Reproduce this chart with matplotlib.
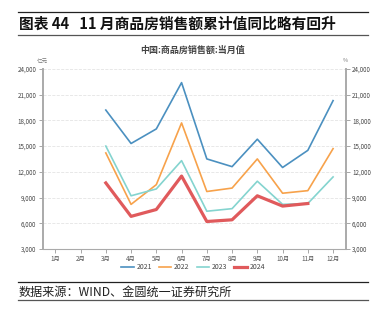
import matplotlib.pyplot as plt
from matplotlib.lines import Line2D

plt.rcParams['font.family'] = ['Noto Sans CJK SC', 'DejaVu Sans']

# 月份与数据（亿元）
months = ['1月', '2月', '3月', '4月', '5月', '6月', '7月', '8月', '9月', '10月', '11月', '12月']
idx_2021 = [2, 3, 4, 5, 6, 7, 8, 9, 10, 11]
s2021 = [19200, 15300, 17000, 22400, 13500, 12600, 15800, 12500, 14500, 20300]
s2022 = [14200, 8200, 10500, 17700, 9700, 10100, 13500, 9500, 9800, 14700]
s2023 = [15000, 9200, 10000, 13300, 7400, 7700, 10900, 8200, 8300, 11400]
idx_2024 = [2, 3, 4, 5, 6, 7, 8, 9, 10]
s2024 = [10700, 6800, 7600, 11500, 6200, 6400, 9200, 8000, 8300]
yticks = [3000, 6000, 9000, 12000, 15000, 18000, 21000, 24000]

colors = ['#4b90c0', '#f7a24b', '#84d4cf', '#e05a5c']
labels = ['2021', '2022', '2023', '2024']

fig = plt.figure(figsize=(3.88, 3.25), dpi=100)
ax = fig.add_axes([0.110, 0.234, 0.781, 0.554])

ax.plot(idx_2021, s2021, color=colors[0], lw=1.2)
ax.plot(idx_2021, s2022, color=colors[1], lw=1.2)
ax.plot(idx_2021, s2023, color=colors[2], lw=1.2)
ax.plot(idx_2024, s2024, color=colors[3], lw=2.3)

ax.set_xlim(-0.5, 11.5)
ax.set_ylim(3000, 24000)
ax.set_xticks(range(12))
ax.set_xticklabels(months, fontsize=4.5, color='#555555')
ax.set_yticks(yticks)
ax.set_yticklabels([f'{v:,}' for v in yticks], fontsize=4.5, color='#444444')
ax.grid(axis='y', color='#e4e4e4', ls='--', lw=0.6)
ax.tick_params(axis='both', length=3, width=0.6, color='#999999', pad=1.5)
for s in ['top', 'right']:
    ax.spines[s].set_visible(False)
for s in ['left', 'bottom']:
    ax.spines[s].set_color('#aaaaaa')
ax.spines['left'].set_linewidth(1.4)
ax.spines['bottom'].set_linewidth(0.8)

ax2 = ax.twinx()
ax2.set_ylim(3000, 24000)
ax2.set_yticks(yticks)
ax2.set_yticklabels([f'{v:,}' for v in yticks], fontsize=4.5, color='#444444')
ax2.tick_params(axis='y', length=3, width=0.6, color='#999999', pad=1.5)
for s in ['top', 'left', 'bottom']:
    ax2.spines[s].set_visible(False)
ax2.spines['right'].set_color('#aaaaaa')
ax2.spines['right'].set_linewidth(1.4)

# 单位
fig.text(42.7 / 388, 1 - 61 / 325, '亿元', fontsize=4, color='#777777', ha='center', va='center')
fig.text(345 / 388, 1 - 61 / 325, '%', fontsize=4, color='#777777', ha='center', va='center')
fig.text(193 / 388, 1 - 50 / 325, '中国:商品房销售额:当月值', fontsize=6.5, color='#444444',
         ha='center', va='center', fontweight='bold')

handles = [Line2D([], [], color=c, lw=2.3 if l == '2024' else 1.2) for c, l in zip(colors, labels)]
fig.legend(handles, labels, loc='center', bbox_to_anchor=(193 / 388, 1 - 267 / 325), ncol=4,
           frameon=False, fontsize=5, handlelength=1.8, columnspacing=1.0, handletextpad=0.4,
           labelcolor='#444444')

# 标题与来源
fig.add_artist(Line2D([18 / 388, 368 / 388], [1 - 12.3 / 325] * 2, color='#222222', lw=0.9))
fig.add_artist(Line2D([18 / 388, 368 / 388], [1 - 34.7 / 325] * 2, color='#555555', lw=0.9))
fig.text(19 / 388, 1 - 24 / 325, '图表 44   11 月商品房销售额累计值同比略有回升', fontsize=10.6,
         fontweight='bold', ha='left', va='center', color='#111111')
fig.add_artist(Line2D([18 / 388, 368 / 388], [1 - 282.3 / 325] * 2, color='#222222', lw=0.9))
fig.add_artist(Line2D([18 / 388, 368 / 388], [1 - 300 / 325] * 2, color='#555555', lw=0.9))
fig.text(19 / 388, 1 - 292 / 325, '数据来源：WIND、金圆统一证券研究所', fontsize=8.7,
         ha='left', va='center', color='#222222')

fig.savefig('out.png', dpi=100)
